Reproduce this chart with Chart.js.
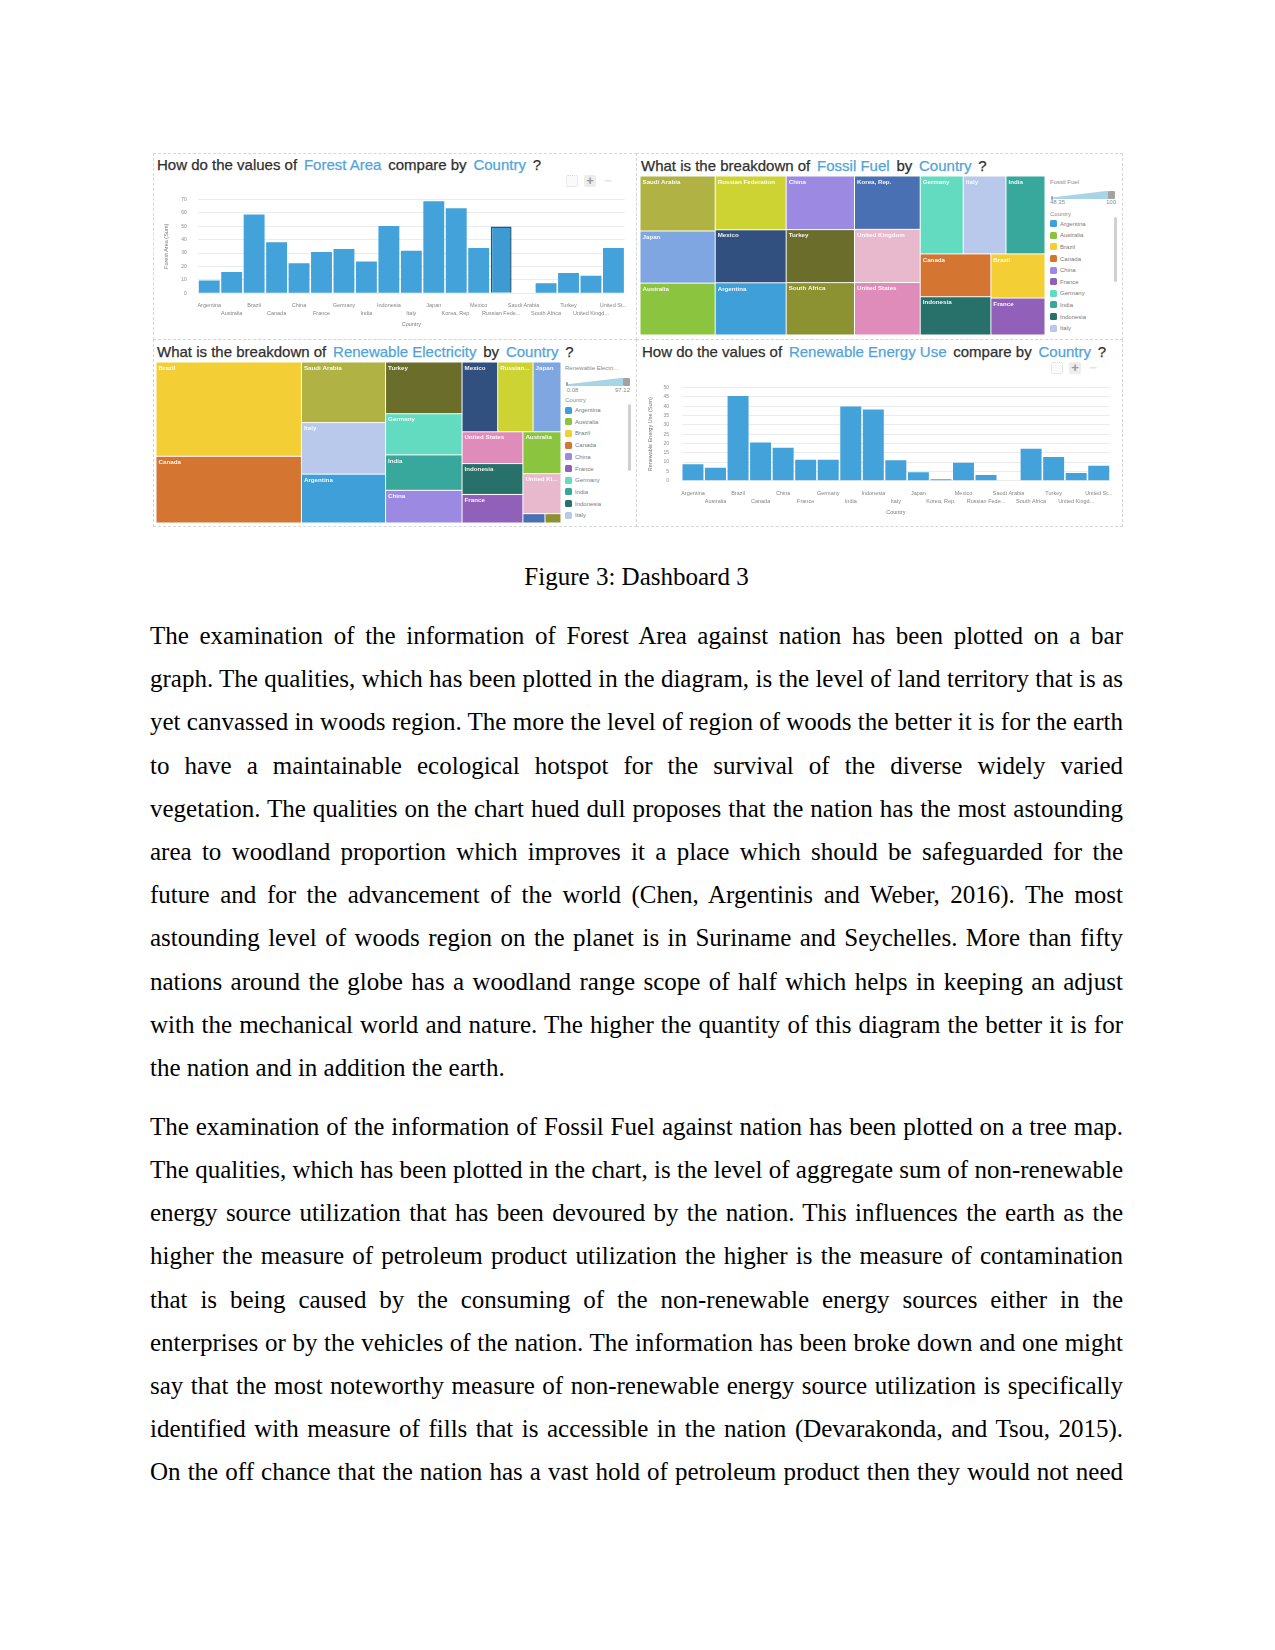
<!DOCTYPE html>
<html>
<head>
<meta charset="utf-8">
<script src="https://cdn.jsdelivr.net/npm/chart.js@4.4.1/dist/chart.umd.min.js"></script>
<style>
body{margin:0;background:#fff;}
#page{position:relative;width:1275px;height:1650px;overflow:hidden;background:#fff;}
.panel{position:absolute;box-sizing:border-box;border:1px dashed #d6d6d6;}
.ttl{position:absolute;display:flex;gap:6.8px;font-family:"Liberation Sans",Arial,sans-serif;font-size:15px;line-height:18px;color:#2f2f2f;white-space:nowrap;-webkit-text-stroke:0.25px currentColor;}
.ttl .b{color:#52a4d8;}
canvas{position:absolute;}
.lg{position:absolute;font-family:"Liberation Sans",Arial,sans-serif;font-size:6px;line-height:8px;color:#8a8a8a;white-space:nowrap;}
.list{position:absolute;overflow:hidden;}
.item{position:absolute;left:0;width:60px;height:8px;font-family:"Liberation Sans",Arial,sans-serif;font-size:6px;line-height:8px;color:#7a7a7a;white-space:nowrap;}
.item i{position:absolute;left:0;top:0.5px;width:7px;height:7px;border-radius:1.5px;}
.item span{position:absolute;left:10px;top:0;}
.wedge{position:absolute;background:#a8d5e6;clip-path:polygon(0 78%,100% 0,100% 100%,0 100%);}
.handle{position:absolute;background:#a3a3a3;border-radius:1px;}
.scroll{position:absolute;width:3px;background:#d0d0d0;border-radius:2px;}
.tb{position:absolute;width:12px;height:12px;border-radius:2px;font-family:"Liberation Sans",Arial,sans-serif;font-size:13px;line-height:12px;text-align:center;font-weight:bold;}
.tb.ex{box-sizing:border-box;border:1.5px dotted #d8d8d8;background:#fafafa;}
.tb.pl{background:#ededed;color:#9a9a9a;}
.tb.mi{color:#e2e2e2;}
.txt{position:absolute;left:150px;width:973px;font-family:"Liberation Serif","Times New Roman",serif;font-size:25px;line-height:43.2px;color:#000;}
.txt div{white-space:nowrap;}
.cap{position:absolute;left:150px;width:973px;text-align:center;font-family:"Liberation Serif","Times New Roman",serif;font-size:25px;line-height:43.2px;color:#000;}
</style>
</head>
<body>
<div id="page">
  <div class="panel" style="left:153px;top:153px;width:484px;height:187px;"></div>
  <div class="panel" style="left:636px;top:153px;width:487px;height:187px;"></div>
  <div class="panel" style="left:153px;top:339px;width:484px;height:188px;"></div>
  <div class="panel" style="left:636px;top:339px;width:487px;height:188px;"></div>

  <div class="ttl" style="left:157px;top:155.8px;"><span>How do the values of</span><span class="b">Forest Area</span><span>compare by</span><span class="b">Country</span><span>?</span></div>
  <div class="ttl" style="left:641px;top:156.5px;"><span>What is the breakdown of</span><span class="b">Fossil Fuel</span><span>by</span><span class="b">Country</span><span>?</span></div>
  <div class="ttl" style="left:157px;top:342.8px;"><span>What is the breakdown of</span><span class="b">Renewable Electricity</span><span>by</span><span class="b">Country</span><span>?</span></div>
  <div class="ttl" style="left:642px;top:342.8px;"><span>How do the values of</span><span class="b">Renewable Energy Use</span><span>compare by</span><span class="b">Country</span><span>?</span></div>

  <div class="tb ex" style="left:566px;top:175px;"></div>
  <div class="tb pl" style="left:584px;top:175px;">+</div>
  <div class="tb mi" style="left:602px;top:175px;">−</div>
  <div class="tb ex" style="left:1051px;top:362px;"></div>
  <div class="tb pl" style="left:1069px;top:362px;">+</div>
  <div class="tb mi" style="left:1087px;top:362px;">−</div>

  <canvas id="forest" width="483" height="145" style="left:153px;top:185px;"></canvas>
  <canvas id="fossil" width="405" height="159" style="left:640px;top:176px;"></canvas>
  <canvas id="relec" width="405" height="161" style="left:156px;top:362px;"></canvas>
  <canvas id="reuse" width="486" height="146" style="left:636px;top:372px;"></canvas>

  <!-- fossil fuel legend -->
  <div class="lg" style="left:1050px;top:177.7px;">Fossil Fuel</div>
  <div class="wedge" style="left:1052px;top:190.7px;width:56px;height:8.6px;"></div>
  <div class="handle" style="left:1107.7px;top:190.7px;width:7.3px;height:8.6px;"></div>
  <div class="handle" style="left:1050.5px;top:195.5px;width:2.5px;height:4px;"></div>
  <div class="lg" style="left:1050px;top:198px;">48.35</div>
  <div class="lg" style="left:1096px;top:198px;width:20px;text-align:right;">100</div>
  <div class="lg" style="left:1050px;top:210px;">Country</div>
  <div class="list" id="legFossil" style="left:1050px;top:219px;width:62px;height:119px;"></div>
  <div class="scroll" style="left:1114px;top:217px;height:65px;"></div>

  <!-- renewable electricity legend -->
  <div class="lg" style="left:565px;top:363.7px;">Renewable Electri...</div>
  <div class="wedge" style="left:567px;top:377.7px;width:56px;height:8.3px;"></div>
  <div class="handle" style="left:622.7px;top:377.7px;width:7.3px;height:8.3px;"></div>
  <div class="handle" style="left:565.5px;top:382.3px;width:2.5px;height:4px;"></div>
  <div class="lg" style="left:566.7px;top:385.5px;">0.08</div>
  <div class="lg" style="left:610px;top:385.5px;width:20px;text-align:right;">97.12</div>
  <div class="lg" style="left:565px;top:396.3px;">Country</div>
  <div class="list" id="legRelec" style="left:565px;top:405px;width:62px;height:121px;"></div>
  <div class="scroll" style="left:628px;top:404px;height:67px;"></div>

  <div class="cap" style="top:554.5px;">Figure 3: Dashboard 3</div>

  <div class="txt" style="top:614px;">
    <div>The examination of the information of Forest Area against nation has been plotted on a bar</div>
    <div>graph. The qualities, which has been plotted in the diagram, is the level of land territory that is as</div>
    <div>yet canvassed in woods region. The more the level of region of woods the better it is for the earth</div>
    <div>to have a maintainable ecological hotspot for the survival of the diverse widely varied</div>
    <div>vegetation. The qualities on the chart hued dull proposes that the nation has the most astounding</div>
    <div>area to woodland proportion which improves it a place which should be safeguarded for the</div>
    <div>future and for the advancement of the world (Chen, Argentinis and Weber, 2016). The most</div>
    <div>astounding level of woods region on the planet is in Suriname and Seychelles. More than fifty</div>
    <div>nations around the globe has a woodland range scope of half which helps in keeping an adjust</div>
    <div>with the mechanical world and nature. The higher the quantity of this diagram the better it is for</div>
    <div class="last">the nation and in addition the earth.</div>
  </div>
  <div class="txt" style="top:1104.8px;">
    <div>The examination of the information of Fossil Fuel against nation has been plotted on a tree map.</div>
    <div>The qualities, which has been plotted in the chart, is the level of aggregate sum of non-renewable</div>
    <div>energy source utilization that has been devoured by the nation. This influences the earth as the</div>
    <div>higher the measure of petroleum product utilization the higher is the measure of contamination</div>
    <div>that is being caused by the consuming of the non-renewable energy sources either in the</div>
    <div>enterprises or by the vehicles of the nation. The information has been broke down and one might</div>
    <div>say that the most noteworthy measure of non-renewable energy source utilization is specifically</div>
    <div>identified with measure of fills that is accessible in the nation (Devarakonda, and Tsou, 2015).</div>
    <div>On the off chance that the nation has a vast hold of petroleum product then they would not need</div>
  </div>
</div>

<script>
const countries=["Argentina","Australia","Brazil","Canada","China","France","Germany","India","Indonesia","Italy","Japan","Korea, Rep.","Mexico","Russian Federation","Saudi Arabia","South Africa","Turkey","United Kingdom","United States"];
const tickLabels=["Argentina","Australia","Brazil","Canada","China","France","Germany","India","Indonesia","Italy","Japan","Korea, Rep.","Mexico","Russian Fede...","Saudi Arabia","South Africa","Turkey","United Kingd...","United St..."];
const countryColors=["#3f9fd8","#8bc540","#f3cf35","#d47632","#9c8ae2","#9160b8","#62dbc0","#37a89b","#27716a","#b9c9eb","#7fa6e0","#4a70b4","#31507f","#cdd333","#b1b244","#8c9131","#6b6d2b","#e8b9cc","#df8cba"];

// Forest Area (Sum), one per country
const forestArea=[9.5,15.9,58.6,38.0,22.3,30.8,33.0,23.7,50.1,31.6,68.6,63.4,33.7,49.8,0.5,7.4,15.2,13.1,33.7];
// Renewable Energy Use (Sum)
const renewableEnergyUse=[8.9,6.9,45.6,20.6,17.7,11.3,11.3,39.9,38.3,11.0,4.6,0.8,9.6,3.0,0,17.2,12.7,4.1,8.1];
// Fossil Fuel (treemap sizes)
const fossilFuel=[89.6,94.3,57.8,73.2,88.6,48.35,81.0,73.5,65.4,80.6,94.8,84.8,91.0,92.3,100,86.5,87.6,84.5,83.4];
// Renewable Electricity (treemap sizes)
const renewableElectricity=[29.1,11.3,97.12,68.7,17.7,12.3,22.3,19.2,13.3,30.7,13.8,1.46,17.6,17.5,36.1,1.06,28.0,10.8,13.7];

const forestTicks={max:70,step:10};
const energyTicks={max:50,step:5};
const selectedBar=13; // Russian Federation is highlighted in the first chart

const barBlue="#43a2d9";
const sans="'Liberation Sans', Arial, sans-serif";

/* BAR CHARTS */

function barChart(id,values,ticks,yTitle,box,highlight){
new Chart(document.getElementById(id),{
type:"bar",
data:{labels:tickLabels,datasets:[{
data:values,
backgroundColor:values.map((v,i)=>i===highlight?"#3d9bd2":barBlue),
borderColor:values.map((v,i)=>i===highlight?"#1b5c86":barBlue),
borderWidth:values.map((v,i)=>i===highlight?1.5:0),
barPercentage:0.93,
categoryPercentage:1
}]},
options:{
responsive:false,animation:false,devicePixelRatio:1,
layout:{padding:{top:10,right:box.right,left:0,bottom:0}},
plugins:{legend:{display:false},tooltip:{enabled:false}},
scales:{
x:{
grid:{display:false,drawTicks:false},border:{display:false},
ticks:{autoSkip:false,maxRotation:0,minRotation:0,padding:box.xPad,color:"#858585",
font:{size:5.5,family:sans,lineHeight:1.35},
callback:(v,i)=>i%2?["",tickLabels[i]]:tickLabels[i]},
title:{display:true,text:"Country",color:"#777",font:{size:5.5,family:sans,lineHeight:1.2},padding:{top:0,bottom:2.7}},
afterFit:s=>{s.height=box.xh;}
},
y:{
min:0,max:ticks.max,
grid:{color:"#ececec",drawTicks:false},border:{display:false},
ticks:{stepSize:ticks.step,padding:box.yPad,color:"#8f8f8f",font:{size:5,family:sans}},
title:{display:true,text:yTitle,color:"#777",font:{size:5.5,family:sans,lineHeight:1.2},padding:{top:box.yTitle,bottom:0}},
afterFit:s=>{s.width=box.yw;}
}
}
}
});
}

barChart("forest",forestArea,forestTicks,"Forest Area (Sum)",{right:10,xPad:8.7,xh:36.7,yPad:11.3,yTitle:9.7,yw:45},selectedBar);
barChart("reuse",renewableEnergyUse,energyTicks,"Renewable Energy Use (Sum)",{right:12,xPad:9.3,xh:37.3,yPad:12.7,yTitle:10.7,yw:45.7},-1);

/* TREEMAPS */

// squarified layout (golden ratio target), values sorted large to small
function squarify(values,x0,y0,x1,y1){
const ratio=(1+Math.sqrt(5))/2;
const nodes=values.map((v,i)=>({v:v,i:i})).sort((a,b)=>b.v-a.v);
let total=nodes.reduce((s,n)=>s+n.v,0);
const out=[];
let i0=0,i1=0;
const n=nodes.length;
while(i0<n){
const dx=x1-x0,dy=y1-y0;
let sum=nodes[i1++].v,minV=sum,maxV=sum;
const alpha=Math.max(dy/dx,dx/dy)/(total*ratio);
let beta=sum*sum*alpha;
let minRatio=Math.max(maxV/beta,beta/minV);
for(;i1<n;i1++){
const v=nodes[i1].v;
sum+=v;
if(v<minV)minV=v;
if(v>maxV)maxV=v;
beta=sum*sum*alpha;
const r=Math.max(maxV/beta,beta/minV);
if(r>minRatio){sum-=v;break;}
minRatio=r;
}
const row=nodes.slice(i0,i1);
if(dx<dy){
const h=i1>=n?dy:dy*sum/total;
let x=x0;
row.forEach(nd=>{const w=dx*nd.v/sum;out.push({i:nd.i,x0:x,y0:y0,x1:x+w,y1:y0+h});x+=w;});
y0+=h;
}else{
const w=i1>=n?dx:dx*sum/total;
let y=y0;
row.forEach(nd=>{const h=dy*nd.v/sum;out.push({i:nd.i,x0:x0,y0:y,x1:x0+w,y1:y+h});y+=h;});
x0+=w;
}
total-=sum;i0=i1;
}
return out;
}

const treemapCells={
id:"treemapCells",
afterDatasetsDraw(chart,args,opts){
const ctx=chart.ctx,a=chart.chartArea,xs=chart.scales.x,ys=chart.scales.y;
const cells=squarify(opts.values,0,0,a.width,a.height);
ctx.save();
ctx.font="bold 6.2px "+sans;
ctx.textBaseline="middle";
cells.forEach(c=>{
const px0=xs.getPixelForValue(c.x0/a.width*100);
const px1=xs.getPixelForValue(c.x1/a.width*100);
const py0=ys.getPixelForValue(c.y0/a.height*100);
const py1=ys.getPixelForValue(c.y1/a.height*100);
ctx.fillStyle=opts.colors[c.i];
ctx.fillRect(px0+0.5,py0+0.5,px1-px0-1,py1-py0-1);
if(py1-py0<11||px1-px0<14)return;
let label=opts.labels[c.i];
const room=px1-px0-5;
if(ctx.measureText(label).width>room){
while(label.length>1&&ctx.measureText(label+"...").width>room)label=label.slice(0,-1);
label=label.trim()+"...";
}
ctx.fillStyle="rgba(255,255,255,0.93)";
ctx.fillText(label,px0+2.5,py0+6);
});
ctx.restore();
}
};

function treemap(id,values){
new Chart(document.getElementById(id),{
type:"scatter",
data:{datasets:[{data:[]}]},
options:{
responsive:false,animation:false,devicePixelRatio:1,
layout:{padding:0},
plugins:{legend:{display:false},tooltip:{enabled:false},
treemapCells:{values:values,labels:countries,colors:countryColors}},
scales:{
x:{type:"linear",min:0,max:100,display:false},
y:{type:"linear",min:0,max:100,reverse:true,display:false}
}
},
plugins:[treemapCells]
});
}

treemap("fossil",fossilFuel);
treemap("relec",renewableElectricity);

/* LEGENDS (only the rows that fit in the scroll box) */

function legend(id,step,first){
const box=document.getElementById(id);
const room=box.clientHeight;
countries.forEach((c,i)=>{
const top=first+i*step;
if(top+8>room)return;
const d=document.createElement("div");
d.className="item";
d.style.top=top+"px";
d.innerHTML='<i style="background:'+countryColors[i]+'"></i><span>'+c+'</span>';
box.appendChild(d);
});
}
legend("legFossil",11.6,0.7);
legend("legRelec",11.7,1);

/* JUSTIFIED TEXT LINES */

document.querySelectorAll(".txt div").forEach(d=>{
if(d.classList.contains("last"))return;
const s=document.createElement("span");
s.textContent=d.textContent;
d.textContent="";
d.appendChild(s);
const w=s.getBoundingClientRect().width;
const gaps=(s.textContent.match(/ /g)||[]).length;
s.style.wordSpacing=((973-w)/gaps)+"px";
});
</script>
</body>
</html>
